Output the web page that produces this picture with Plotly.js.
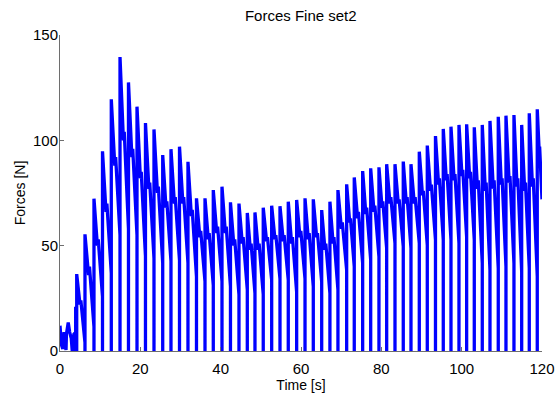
<!DOCTYPE html>
<html>
<head>
<meta charset="utf-8">
<script src="https://cdn.plot.ly/plotly-3.0.1.min.js"></script>
<style>
html,body{margin:0;padding:0;background:#fff;}
#chart{width:557px;height:396px;}
</style>
</head>
<body>
<div id="chart"></div>
<script>
// Early low-force wiggle before the regular cycles (time s, force N)
const earlyTime  = [0, 0.35, 0.7, 1.0, 1.3, 1.5, 1.6, 2.05, 2.4, 2.8, 3.05, 3.1, 3.45, 3.7, 3.75, 3.9, 3.9, 4.1];
const earlyForce = [12, 3, 1, 9, 3, 0.5, 8, 13.5, 9, 6, 0, 2, 8, 8.5, 0.5, 0, 21, 16];

// Regular cycles: start time, peak force, mid dip, mid bump, force at end of cycle
const cycleStart = [4.16, 6.22, 8.46, 10.58, 12.77, 14.94, 17.05, 19.17, 21.28, 23.4,
  25.57, 27.63, 29.75, 31.86, 33.98, 36.1, 38.16, 40.33, 42.44, 44.56,
  46.63, 48.54, 50.6, 52.7, 54.77, 56.83, 58.92, 61, 63.06, 65.15,
  67.2, 69.2, 71.37, 73.26, 75.35, 77.35, 79.41, 81.33, 83.4, 85.46,
  87.38, 89.45, 91.44, 93.48, 95.42, 97.34, 99.33, 101.24, 103.14, 105.13,
  107.05, 109.11, 111.03, 113.02, 114.94, 116.83, 118.82];
const peakForce = [36.5, 55.4, 72.3, 94.8, 119.5, 139.5, 127.5, 116, 108.2, 105.2,
  93, 95.8, 97, 89.8, 72.5, 72.5, 76.4, 78, 70.6, 70,
  65.5, 65.8, 68, 69, 68.7, 70.9, 71.7, 72.5, 72, 66.9,
  70.9, 76.4, 79.1, 82.4, 85.4, 86.7, 87.2, 88.7, 88.7, 89.9,
  88.7, 94.6, 97.5, 102, 105.4, 106.5, 107.3, 107.6, 106.2, 107.3,
  109.2, 111.2, 111.7, 112, 107.3, 112.8, 114.7];
const dipForce = [22, 36, 50, 66, 88, 100, 92, 82, 77, 75,
  68, 70, 70, 64, 54, 53, 56, 56, 50, 51,
  48, 48, 52, 53, 52, 51, 54, 53, 54, 48,
  51, 58, 61, 63, 65, 66, 68, 70, 70, 70,
  70, 74, 76, 79, 81, 81, 83, 82, 77, 76,
  77, 79, 80, 78, 76, 78, 95];
const bumpForce = [24, 40, 53, 70, 92, 104, 96, 85, 80, 78,
  71, 73, 73, 67, 57, 56, 59, 59, 53, 54,
  51, 51, 54, 55, 55, 54, 57, 56, 56, 51,
  54, 61, 63, 66, 68, 69, 71, 73, 72, 73,
  73, 76, 79, 82, 84, 84, 86, 85, 81, 80,
  81, 82, 83, 82, 80, 82, 97];
const endForce = [4, 11.5, 25.8, 37, 55, 58, 55, 45, 44, 41.7,
  42.6, 43, 41.7, 35.3, 32.9, 31.3, 33, 30.6, 26.6, 29,
  27.4, 26.9, 33.7, 34.3, 33.7, 27.9, 34.3, 30.6, 32.8, 27.4,
  29, 38.4, 40, 41.7, 43.2, 44.7, 48.7, 51.1, 49.5, 48.7,
  51.1, 50.3, 52.7, 52.7, 52.7, 51.1, 54.2, 52.7, 41.6, 38.4,
  39.2, 40, 41.6, 37.7, 39.2, 35.3, 72];
const endTime = 120;

const xTicks = [0, 20, 40, 60, 80, 100, 120];
const yTicks = [0, 50, 100, 150];

// Build the trace from the arrays
const xs = earlyTime.slice();
const ys = earlyForce.slice();
for (let i = 0; i < cycleStart.length; i++) {
  const s = cycleStart[i];
  const n = (i + 1 < cycleStart.length) ? cycleStart[i + 1] : endTime;
  const T = n - s;
  xs.push(s, s, s + 0.4 * T, s + 0.5 * T, n);
  ys.push(0, peakForce[i], dipForce[i], bumpForce[i], endForce[i]);
}

const font = 'Liberation Sans, Arial, Helvetica, sans-serif';
const axisCol = '#6e6e6e';

Plotly.newPlot('chart', [{
  x: xs, y: ys, type: 'scatter', mode: 'lines',
  line: {color: '#0000ff', width: 3.3, simplify: false},
  hoverinfo: 'skip'
}], {
  width: 557, height: 396,
  margin: {l: 60, r: 15, t: 35, b: 45, pad: 0},
  paper_bgcolor: '#fff', plot_bgcolor: '#fff',
  showlegend: false,
  font: {family: font, color: '#000', size: 14},
  title: {text: 'Forces Fine set2', font: {family: font, size: 15, color: '#000'},
          x: 0.54, xref: 'container', xanchor: 'center', y: 1 - 16/396, yref: 'container', yanchor: 'middle'},
  xaxis: {range: [0, 120], tickvals: xTicks, ticktext: xTicks.map(String),
          ticks: 'inside', ticklen: 4, tickcolor: axisCol, tickwidth: 1,
          showline: true, linecolor: axisCol, linewidth: 1, showgrid: false, zeroline: false,
          tickfont: {family: font, size: 15, color: '#000'}, ticklabelstandoff: 4,
          title: {text: 'Time [s]', font: {family: font, size: 14, color: '#000'}, standoff: 2}},
  yaxis: {range: [0, 150], tickvals: yTicks, ticktext: yTicks.map(String),
          ticks: 'inside', ticklen: 4, tickcolor: axisCol, tickwidth: 1,
          showline: true, linecolor: axisCol, linewidth: 1, showgrid: false, zeroline: false,
          tickfont: {family: font, size: 15, color: '#000'}, ticklabelstandoff: -2,
          title: {text: 'Forces [N]', font: {family: font, size: 14, color: '#000'}, standoff: 4}}
}, {displayModeBar: false, staticPlot: true});
</script>
</body>
</html>
